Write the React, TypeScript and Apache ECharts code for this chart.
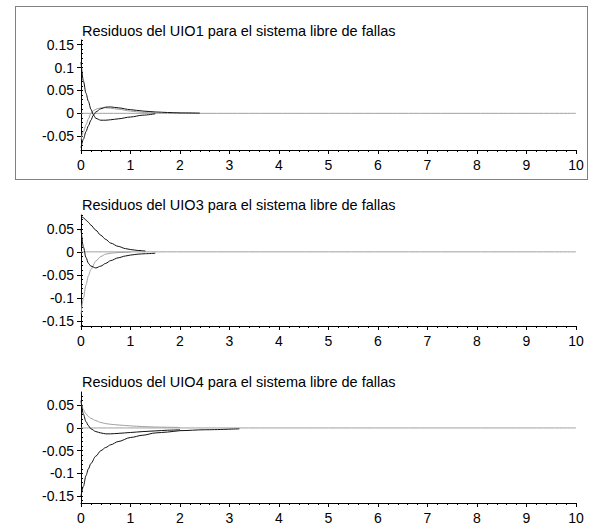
import React, { useEffect, useRef } from "react";
import * as echarts from "echarts";

const titles = [
  "Residuos del UIO1 para el sistema libre de fallas",
  "Residuos del UIO3 para el sistema libre de fallas",
  "Residuos del UIO4 para el sistema libre de fallas",
];

const xTicks = [0, 1, 2, 3, 4, 5, 6, 7, 8, 9, 10];
const yRanges = [
  [-0.08, 0.16],
  [-0.161, 0.08],
  [-0.165, 0.079],
];
const yLabels = [
  [-0.05, 0, 0.05, 0.1, 0.15],
  [-0.15, -0.1, -0.05, 0, 0.05],
  [-0.15, -0.1, -0.05, 0, 0.05],
];

// Panel 1 (UIO1)
const t1 = [0, 0.05, 0.1, 0.15, 0.2, 0.25, 0.3, 0.4, 0.5, 0.6, 0.75, 1.0, 1.25, 1.5, 1.75, 2.0, 2.4];
const p1BlackA = [0.112, 0.07, 0.044, 0.026, 0.009, -0.003, -0.011, -0.015, -0.015, -0.014, -0.012, -0.008, -0.004, -0.001];
const p1BlackB = [-0.075, -0.056, -0.04, -0.027, -0.015, -0.004, 0.003, 0.01, 0.0135, 0.014, 0.012, 0.008, 0.005, 0.003, 0.0018, 0.001, 0.0005];
const p1Gray = [-0.058, -0.04, -0.025, -0.012, 0.0, 0.006, 0.009, 0.012, 0.012, 0.011, 0.009, 0.005, 0.002, 0.0005];

// Panel 2 (UIO3)
const t2 = [0, 0.05, 0.1, 0.15, 0.2, 0.3, 0.4, 0.5, 0.6, 0.75, 0.9, 1.0, 1.15, 1.3, 1.5];
const p2BlackC = [0.078, 0.074, 0.069, 0.064, 0.058, 0.047, 0.036, 0.027, 0.019, 0.012, 0.007, 0.005, 0.003, 0.002];
const p2BlackD = [0.05, 0.01, -0.012, -0.025, -0.031, -0.035, -0.031, -0.025, -0.019, -0.013, -0.009, -0.007, -0.005, -0.004, -0.003];
const p2Gray = [-0.135, -0.1, -0.072, -0.052, -0.038, -0.02, -0.01, -0.005, -0.003, -0.0015, -0.001, -0.0005];

// Panel 3 (UIO4)
const t3 = [0, 0.05, 0.1, 0.15, 0.2, 0.3, 0.4, 0.5, 0.6, 0.75, 1.0, 1.25, 1.5, 1.75, 2.0, 2.5, 3.2];
const p3Gray = [0.058, 0.04, 0.031, 0.025, 0.021, 0.016, 0.012, 0.0095, 0.008, 0.0065, 0.0045, 0.003, 0.002, 0.0015, 0.001];
const p3BlackG = [0.06, 0.03, 0.014, 0.005, -0.002, -0.008, -0.011, -0.013, -0.013, -0.012, -0.01, -0.008, -0.0065, -0.005, -0.004];
const p3BlackH = [-0.15, -0.128, -0.105, -0.09, -0.078, -0.062, -0.05, -0.043, -0.037, -0.03, -0.021, -0.016, -0.011, -0.009, -0.006, -0.004, -0.002];

const zeroLine = [0, 0];
const zeroT = [0, 10];

const BLACK = "#111111";
const GRAY = "#a0a0a0";

function pairs(t: number[], v: number[]) {
  return v.map((y, i) => [t[i], y]);
}

function minorTicks(min: number, max: number, step: number) {
  const out: number[] = [];
  const start = Math.ceil(min / step - 1e-9);
  const end = Math.floor(max / step + 1e-9);
  for (let k = start; k <= end; k++) out.push(Number((k * step).toFixed(4)));
  return out;
}

export default function App() {
  const ref = useRef<HTMLDivElement>(null);
  useEffect(() => {
    if (!ref.current) return;
    const chart = echarts.init(ref.current, null, { renderer: "svg" });
    const grids = [
      { left: 81, top: 40, width: 495, height: 110 },
      { left: 81, top: 215, width: 495, height: 111 },
      { left: 81, top: 392, width: 495, height: 111 },
    ];
    const titleTops = [23, 197, 374];

    const xAxis: any[] = [];
    const yAxis: any[] = [];
    grids.forEach((_, i) => {
      xAxis.push({
        type: "value",
        gridIndex: i,
        min: 0,
        max: 10,
        interval: 1,
        axisLine: { show: true, onZero: false, lineStyle: { color: "#000", width: 1 } },
        axisTick: { show: true, length: 4, lineStyle: { color: "#000" } },
        minorTick: { show: true, splitNumber: 5, length: 2, lineStyle: { color: "#000" } },
        splitLine: { show: false },
        axisLabel: {
          color: "#000",
          fontSize: 14,
          fontFamily: "'Liberation Sans', Arial, sans-serif",
          margin: 8,
          customValues: xTicks,
        },
      });
      const [mn, mx] = yRanges[i];
      yAxis.push({
        type: "value",
        gridIndex: i,
        min: mn,
        max: mx,
        axisLine: { show: true, onZero: false, lineStyle: { color: "#000", width: 1 } },
        axisTick: { show: true, length: 4, customValues: yLabels[i], lineStyle: { color: "#000" } },
        splitLine: { show: false },
        axisLabel: {
          color: "#000",
          fontSize: 14,
          fontFamily: "'Liberation Sans', Arial, sans-serif",
          margin: 7,
          customValues: yLabels[i],
          formatter: (v: number) => String(Number(v.toFixed(3))),
        },
      });
      yAxis.push({
        type: "value",
        gridIndex: i,
        min: mn,
        max: mx,
        axisLine: { show: false },
        axisTick: { show: true, length: 2, customValues: minorTicks(mn, mx, 0.01), lineStyle: { color: "#000" } },
        splitLine: { show: false },
        axisLabel: { show: false },
      });
    });

    const line = (i: number, data: number[][], color: string, z = 3) => ({
      type: "line",
      xAxisIndex: i,
      yAxisIndex: i * 2,
      data,
      showSymbol: false,
      smooth: 0.3,
      smoothMonotone: "x",
      lineStyle: { color, width: 1 },
      itemStyle: { color },
      z,
      silent: true,
    });

    const series = [
      line(0, pairs(zeroT, zeroLine), GRAY, 2),
      line(0, pairs(t1, p1Gray), GRAY),
      line(0, pairs(t1, p1BlackB), BLACK, 4),
      line(0, pairs(t1, p1BlackA), BLACK, 4),
      line(1, pairs(zeroT, zeroLine), GRAY, 2),
      line(1, pairs(t2, p2Gray), GRAY),
      line(1, pairs(t2, p2BlackC), BLACK, 4),
      line(1, pairs(t2, p2BlackD), BLACK, 4),
      line(2, pairs(zeroT, zeroLine), GRAY, 2),
      line(2, pairs(t3, p3Gray), GRAY),
      line(2, pairs(t3, p3BlackG), BLACK, 4),
      line(2, pairs(t3, p3BlackH), BLACK, 4),
    ];

    chart.setOption({
      animation: false,
      backgroundColor: "#ffffff",
      title: titles.map((text, i) => ({
        text,
        left: 82,
        top: titleTops[i],
        padding: 0,
        textStyle: {
          color: "#000",
          fontSize: 14.5,
          fontWeight: "normal",
          fontFamily: "'Liberation Sans', Arial, sans-serif",
        },
      })),
      grid: grids,
      xAxis,
      yAxis,
      series,
      graphic: [
        {
          type: "rect",
          shape: { x: 15.5, y: 6.5, width: 572, height: 173 },
          style: { fill: "none", stroke: "#000", lineWidth: 1, lineDash: [1, 1] },
          silent: true,
        },
      ],
    });
    return () => chart.dispose();
  }, []);
  return (
    <div
      ref={ref}
      style={{ position: "absolute", left: 0, top: 0, width: 589, height: 529 }}
    />
  );
}
